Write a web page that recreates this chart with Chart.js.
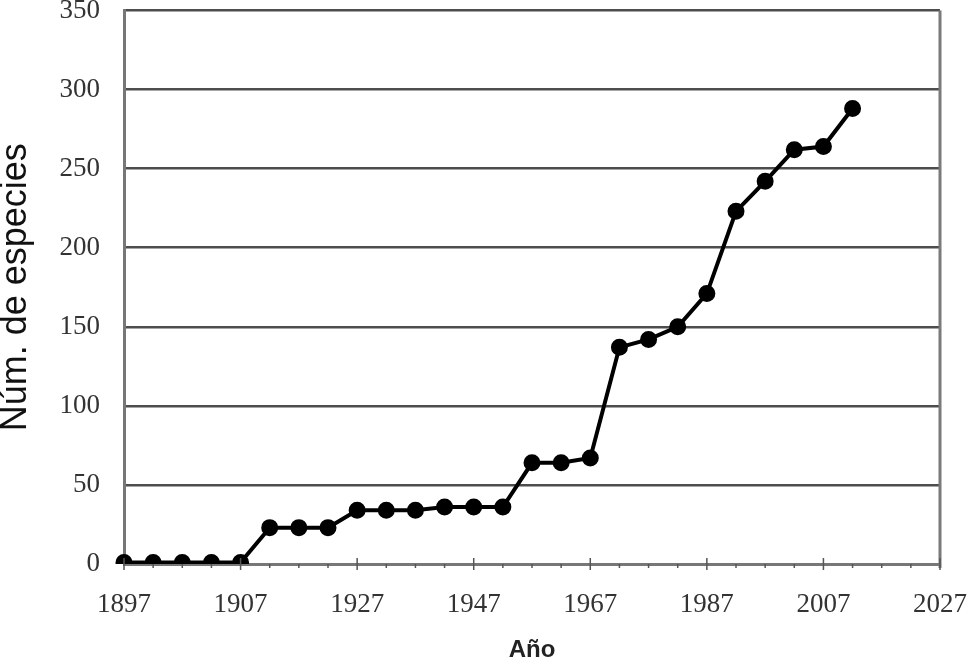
<!DOCTYPE html>
<html>
<head>
<meta charset="utf-8">
<script src="https://cdn.jsdelivr.net/npm/chart.js@4/dist/chart.umd.min.js"></script>
<style>
  html, body { margin: 0; padding: 0; background: #fff; }
  #wrap { width: 971px; height: 665px; }
</style>
</head>
<body>
<div id="wrap"><canvas id="chart" width="971" height="665"></canvas></div>
<script>
// one point every tick step; a labelled year every 4th step
const yearLabels = ['1897', '1907', '1927', '1947', '1967', '1987', '2007', '2027'];
const stepsPerLabel = 4;
const especies = [1, 1, 1, 1, 1, 23, 23, 23, 34, 34, 34, 36, 36, 36, 64, 64, 67,
                  137, 142, 150, 171, 223, 242, 262, 264, 288];
const yTicks = [0, 50, 100, 150, 200, 250, 300, 350];

const categories = [];
yearLabels.forEach((y, i) => {
    categories.push(y);
    if (i < yearLabels.length - 1) {
        for (let k = 1; k < stepsPerLabel; k++) categories.push('');
    }
});

// minor/major tick marks on the x axis plus the right frame line
const frame = {
    id: 'frame',
    afterDatasetsDraw(chart) {
        const { ctx, chartArea, scales } = chart;
        const xs = scales.x;
        ctx.save();
        ctx.strokeStyle = '#7a7a7a';
        ctx.lineWidth = 3;
        ctx.beginPath();
        ctx.moveTo(chartArea.right, chartArea.top);
        ctx.lineTo(chartArea.right, chartArea.bottom + 4);
        ctx.stroke();
        ctx.lineWidth = 1.5;
        ctx.strokeStyle = '#555';
        categories.forEach((c, i) => {
            const px = xs.getPixelForValue(i);
            ctx.beginPath();
            if (c) {
                ctx.moveTo(px, chartArea.bottom - 6);
                ctx.lineTo(px, chartArea.bottom + 6);
            } else {
                ctx.moveTo(px, chartArea.bottom);
                ctx.lineTo(px, chartArea.bottom + 4);
            }
            ctx.stroke();
        });
        ctx.restore();
    }
};

new Chart(document.getElementById('chart').getContext('2d'), {
    type: 'line',
    data: {
        labels: categories,
        datasets: [{
            data: especies,
            borderColor: '#000',
            backgroundColor: '#000',
            borderWidth: 4,
            pointRadius: 6.5,
            pointBackgroundColor: '#000',
            pointBorderColor: '#000',
            tension: 0
        }]
    },
    options: {
        responsive: false,
        animation: false,
        layout: { padding: { top: 10, right: 31, left: 0, bottom: 0 } },
        plugins: { legend: { display: false }, tooltip: { enabled: false } },
        scales: {
            x: {
                type: 'category',
                offset: false,
                grid: { display: false },
                border: { display: true, color: '#777', width: 3 },
                ticks: {
                    autoSkip: false,
                    maxRotation: 0,
                    padding: 17,
                    color: '#333',
                    font: { family: 'Liberation Serif', size: 27 }
                },
                title: {
                    display: true,
                    text: 'Año',
                    color: '#222',
                    padding: { top: 0, bottom: 0 },
                    font: { family: 'Liberation Sans', size: 24, weight: 'bold' }
                },
                afterFit(scale) {
                    scale.height = 101;
                    scale.paddingLeft = 0;
                    scale.paddingRight = 0;
                }
            },
            y: {
                min: 0,
                max: 350,
                afterBuildTicks(scale) { scale.ticks = yTicks.map(v => ({ value: v })); },
                grid: { color: '#4d4d4d', lineWidth: 2.5, drawTicks: false },
                border: { display: true, color: '#777', width: 3 },
                ticks: {
                    padding: 24,
                    color: '#333',
                    font: { family: 'Liberation Serif', size: 27 }
                },
                title: {
                    display: true,
                    text: 'Núm. de especies',
                    color: '#111',
                    padding: { top: 0, bottom: 0 },
                    font: { family: 'Liberation Sans', size: 36, lineHeight: 0.9 }
                },
                afterFit(scale) {
                    scale.width = 124;
                    scale.paddingTop = 0;
                    scale.paddingBottom = 0;
                }
            }
        }
    },
    plugins: [frame]
});
</script>
</body>
</html>
